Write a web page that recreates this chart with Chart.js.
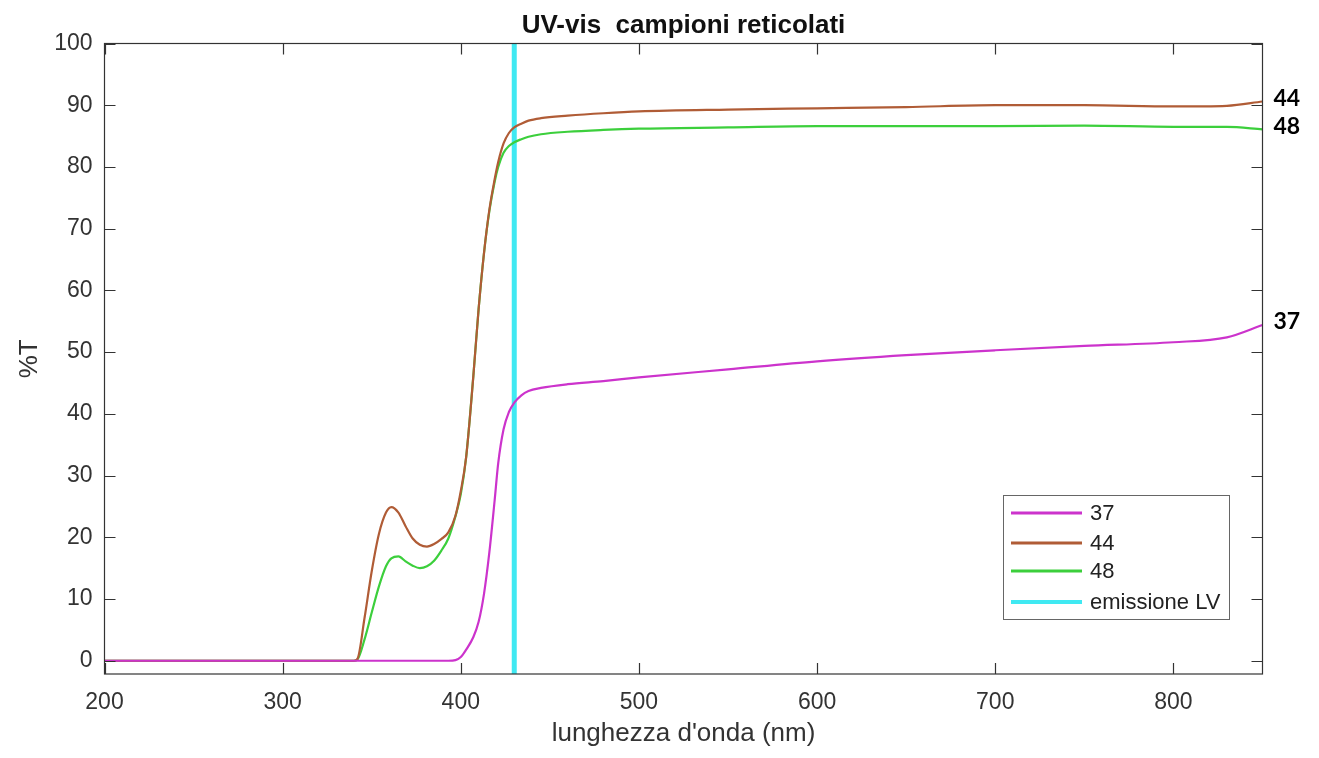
<!DOCTYPE html>
<html>
<head>
<meta charset="utf-8">
<title>UV-vis campioni reticolati</title>
<script src="https://cdn.jsdelivr.net/npm/chart.js@4.4.1/dist/chart.umd.min.js"></script>
<style>
  html, body { margin: 0; padding: 0; background: #fff; }
  #wrap { width: 1319px; height: 758px; }
</style>
</head>
<body>
<div id="wrap"><canvas id="uvChart" width="1319" height="758"></canvas></div>
<script>
// lunghezze d'onda (nm)
const wavelengths = [200, 340, 342, 346, 350, 354, 358, 361, 365, 369, 373, 377, 381, 385, 389, 393, 397, 400, 403, 407,
  410, 413, 416, 419, 421, 424, 427, 430, 434, 438, 445, 460, 480, 500, 550, 600, 650, 700, 750, 800, 830, 850];

// %T per campione
const t37 = [0, 0, 0, 0, 0, 0, 0, 0, 0, 0, 0, 0, 0, 0, 0, 0, 0.1, 0.6, 1.8, 3.8,
  6.3, 10.8, 17.5, 26, 32, 37.5, 40.3, 41.8, 43, 43.7, 44.2, 44.8, 45.3, 45.9, 47.2, 48.5, 49.5, 50.3, 51, 51.6, 52.4, 54.4];
const t44 = [0, 0, 0.3, 7, 14.5, 20.5, 24, 24.9, 24, 21.8, 19.8, 18.8, 18.5, 18.9, 19.7, 20.8, 23.5, 27.5, 33, 46,
  57, 66, 73, 78, 80.8, 83.8, 85.5, 86.4, 87, 87.5, 87.9, 88.3, 88.7, 89, 89.3, 89.5, 89.7, 90, 90, 89.8, 89.9, 90.6];
const t48 = [0, 0, 0.2, 3.5, 7.8, 12, 15.3, 16.6, 16.9, 16.1, 15.4, 15, 15.3, 16.2, 17.8, 19.8, 23.4, 27, 33, 46,
  57, 66, 72.8, 77.6, 80, 82.3, 83.4, 84, 84.5, 84.9, 85.3, 85.7, 86, 86.2, 86.4, 86.6, 86.6, 86.6, 86.7, 86.5, 86.5, 86.1];

// emissione lampada LV
const lampNm = 430;
const lampRange = [-2.15, 100];

const seriesNames = ["37", "44", "48", "emissione LV"];
const seriesColors = ["#cc33cc", "#b05c36", "#3ccf3c", "#3fe9f2"];

const xTicks = [200, 300, 400, 500, 600, 700, 800];
const yTicks = [0, 10, 20, 30, 40, 50, 60, 70, 80, 90, 100];

const chartTitle = "UV-vis  campioni reticolati";

const FONT = "'Liberation Sans', Arial, Helvetica, sans-serif";
const TXT = "#333333";

function toPoints(values) {
  return wavelengths.map((w, i) => ({ x: w, y: values[i] }));
}

// cornice tipo MATLAB + tacche interne + titolo + legenda + etichette a destra
const matlabBox = {
  id: "matlabBox",
  afterDatasetsDraw(chart) {
    const { ctx, chartArea: a, scales: { x, y } } = chart;
    ctx.save();

    // assi e tacche
    ctx.strokeStyle = "#333";
    ctx.lineWidth = 1.2;
    ctx.strokeRect(a.left, a.top, a.right - a.left, a.bottom - a.top);
    ctx.beginPath();
    xTicks.forEach((v) => {
      const px = Math.round(x.getPixelForValue(v)) + 0.5;
      ctx.moveTo(px, a.bottom); ctx.lineTo(px, a.bottom - 11);
      ctx.moveTo(px, a.top); ctx.lineTo(px, a.top + 11);
    });
    yTicks.forEach((v) => {
      const py = Math.round(y.getPixelForValue(v)) + 0.5;
      ctx.moveTo(a.left, py); ctx.lineTo(a.left + 11, py);
      ctx.moveTo(a.right, py); ctx.lineTo(a.right - 11, py);
    });
    ctx.stroke();

    // titolo centrato sull'area del grafico
    ctx.font = "bold 26px " + FONT;
    ctx.fillStyle = "#111";
    ctx.textAlign = "center";
    ctx.textBaseline = "alphabetic";
    ctx.fillText(chartTitle, (a.left + a.right) / 2, a.top - 11);

    // legenda
    const lw = 226, lh = 124;
    const lx = a.right - 33.5 - lw;
    const ly = a.bottom - 55 - lh;
    ctx.fillStyle = "#fff";
    ctx.fillRect(lx, ly, lw, lh);
    ctx.strokeStyle = "#666";
    ctx.lineWidth = 1;
    ctx.strokeRect(lx + 0.5, ly + 0.5, lw, lh);
    ctx.font = "22px " + FONT;
    ctx.textBaseline = "middle";
    ctx.textAlign = "left";
    const rowY = [18, 48, 76, 107];
    chart.data.datasets.forEach((ds, i) => {
      const yy = ly + rowY[i];
      ctx.strokeStyle = ds.borderColor;
      ctx.lineWidth = i === 3 ? 4 : 3;
      ctx.beginPath();
      ctx.moveTo(lx + 8, yy);
      ctx.lineTo(lx + 79, yy);
      ctx.stroke();
      ctx.fillStyle = "#222";
      ctx.fillText(ds.label, lx + 87, yy + 1);
    });

    // etichette campioni a destra
    ctx.font = "bold 23px Lato, 'Open Sans', sans-serif";
    ctx.fillStyle = "#000";
    [0, 1, 2].forEach((i) => {
      const data = chart.data.datasets[i].data;
      const last = data[data.length - 1].y;
      ctx.fillText(chart.data.datasets[i].label, a.right + 11, y.getPixelForValue(last) - 3);
    });

    ctx.restore();
  },
};

const ctx = document.getElementById("uvChart").getContext("2d");
const uvChart = new Chart(ctx, {
  type: "line",
  data: {
    datasets: [
      { label: seriesNames[0], data: toPoints(t37), borderColor: seriesColors[0], borderWidth: 2.2 },
      { label: seriesNames[1], data: toPoints(t44), borderColor: seriesColors[1], borderWidth: 2.2 },
      { label: seriesNames[2], data: toPoints(t48), borderColor: seriesColors[2], borderWidth: 2.2 },
      {
        label: seriesNames[3],
        data: lampRange.map((v) => ({ x: lampNm, y: v })),
        borderColor: seriesColors[3],
        borderWidth: 5,
      },
    ],
  },
  options: {
    responsive: false,
    animation: false,
    devicePixelRatio: 1,
    elements: {
      point: { radius: 0, hoverRadius: 0 },
      line: { cubicInterpolationMode: "monotone", fill: false },
    },
    layout: { padding: { top: 43.5, right: 56.5, left: 0, bottom: 0 } },
    plugins: {
      legend: { display: false },
      tooltip: { enabled: false },
      title: { display: false },
    },
    scales: {
      x: {
        type: "linear",
        min: 200,
        max: 850,
        afterBuildTicks: (s) => { s.ticks = xTicks.map((v) => ({ value: v })); },
        afterFit: (s) => { s.height = 84; },
        grid: { display: false, drawTicks: false },
        border: { display: false },
        ticks: { color: TXT, padding: 15, font: { family: FONT, size: 23 } },
        title: {
          display: true,
          text: "lunghezza d'onda (nm)",
          color: TXT,
          font: { family: FONT, size: 26 },
          padding: { top: 0, bottom: 9 },
        },
      },
      y: {
        type: "linear",
        min: -2.15,
        max: 100,
        afterBuildTicks: (s) => { s.ticks = yTicks.map((v) => ({ value: v })); },
        afterFit: (s) => { s.width = 104.5; },
        grid: { display: false, drawTicks: false },
        border: { display: false },
        ticks: { color: TXT, padding: 12, font: { family: FONT, size: 23 } },
        title: {
          display: true,
          text: "%T",
          color: TXT,
          font: { family: FONT, size: 26 },
          padding: { top: 14, bottom: 0 },
        },
      },
    },
  },
  plugins: [matlabBox],
});
</script>
</body>
</html>
